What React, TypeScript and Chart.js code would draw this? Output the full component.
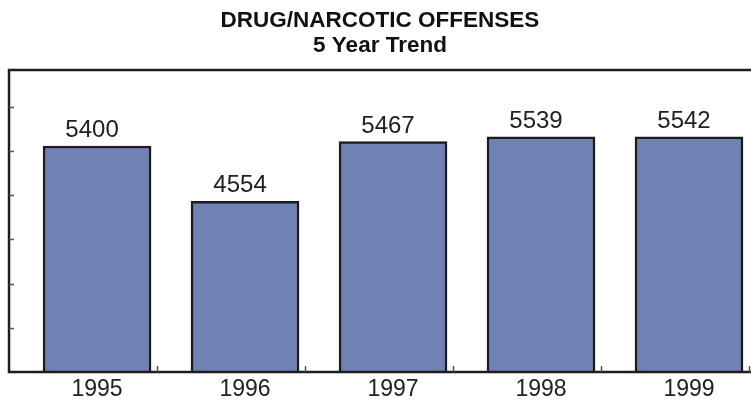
import React, { useEffect, useRef } from 'react';
import { Chart, registerables } from 'chart.js';

Chart.register(...registerables);

const YEARS = [1995, 1996, 1997, 1998, 1999];
const OFFENSES = [5400, 4554, 5467, 5539, 5542];
const TITLE_LINES = ['DRUG/NARCOTIC OFFENSES', '5 Year Trend'];
const Y_MIN = 1950;
const Y_MAX = 6560;
const Y_TICKS = [2625, 3300, 3975, 4650, 5325, 6000];
const X_MIN = 1994.405;
const X_MAX = 1999.419;
const X_DIVIDERS = [1995.405, 1996.405, 1997.405, 1998.405, 1999.405];

const FONT_SANS = '"Liberation Sans", Arial, Helvetica, sans-serif';

const framePlugin = {
  id: 'frame',
  afterDatasetsDraw(chart: any) {
    const { ctx, chartArea: a, scales } = chart;
    ctx.save();
    ctx.strokeStyle = '#1e1e1e';
    ctx.lineWidth = 2.5;
    ctx.beginPath();
    ctx.moveTo(a.right + 5, a.top);
    ctx.lineTo(a.left, a.top);
    ctx.lineTo(a.left, a.bottom);
    ctx.lineTo(a.right + 5, a.bottom);
    ctx.stroke();

    ctx.lineWidth = 1.5;
    ctx.strokeStyle = '#555';
    ctx.beginPath();
    Y_TICKS.forEach((v) => {
      const y = Math.round(scales.y.getPixelForValue(v)) + 0.5;
      ctx.moveTo(a.left, y);
      ctx.lineTo(a.left + 5, y);
    });
    X_DIVIDERS.forEach((v) => {
      const x = Math.round(scales.x.getPixelForValue(v)) + 0.5;
      ctx.moveTo(x, a.bottom);
      ctx.lineTo(x, a.bottom - 6);
    });
    ctx.stroke();

    const meta = chart.getDatasetMeta(0);
    ctx.font = `24px ${FONT_SANS}`;
    ctx.fillStyle = '#222';
    ctx.textAlign = 'center';
    ctx.textBaseline = 'alphabetic';
    meta.data.forEach((bar: any, i: number) => {
      ctx.fillText(String(OFFENSES[i]), bar.x - 5, bar.y - 9);
    });
    ctx.restore();
  },
};

export default function App() {
  const ref = useRef<HTMLCanvasElement | null>(null);

  useEffect(() => {
    if (!ref.current) return;
    const chart = new Chart(ref.current, {
      type: 'bar',
      data: {
        datasets: [
          {
            data: YEARS.map((yr, i) => ({ x: yr, y: OFFENSES[i] })),
            backgroundColor: '#7082b4',
            borderColor: '#1c1c1c',
            borderWidth: 2.5,
            barThickness: 108,
          },
        ],
      },
      options: {
        animation: false,
        responsive: false,
        layout: { padding: { left: 9, right: 0, top: 0, bottom: 0 } },
        plugins: {
          legend: { display: false },
          tooltip: { enabled: false },
          title: {
            display: true,
            text: TITLE_LINES,
            color: '#111',
            font: { family: FONT_SANS, size: 22.5, weight: 'bold', lineHeight: 1.09 },
            padding: { top: 9, bottom: 12 },
          },
        },
        scales: {
          x: {
            type: 'linear',
            min: X_MIN,
            max: X_MAX,
            offset: false,
            grid: { display: false, drawTicks: false },
            border: { display: false },
            afterBuildTicks: (scale: any) => {
              scale.ticks = YEARS.map((v) => ({ value: v }));
            },
            afterFit: (scale: any) => {
              scale.height = 28;
            },
            ticks: {
              autoSkip: false,
              maxRotation: 0,
              padding: 6,
              color: '#222',
              font: { family: FONT_SANS, size: 23, lineHeight: 1 },
              callback: (v: any) => String(v),
            },
          },
          y: {
            display: false,
            min: Y_MIN,
            max: Y_MAX,
          },
        },
      },
      plugins: [framePlugin],
    });
    return () => chart.destroy();
  }, []);

  return (
    <div style={{ position: 'fixed', left: 0, top: 0, width: 751, height: 400, background: '#fff' }}>
      <canvas ref={ref} width={751} height={400} style={{ display: 'block' }} />
    </div>
  );
}
